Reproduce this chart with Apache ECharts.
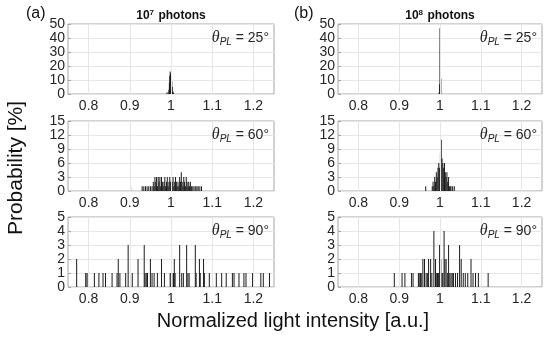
<!DOCTYPE html>
<html><head><meta charset="utf-8">
<script src="https://cdn.jsdelivr.net/npm/echarts@6/dist/echarts.min.js"></script>
<style>html,body{margin:0;padding:0;background:#fff}#c{width:550px;height:337px}</style>
</head><body><div id="c"></div>
<script>
// ---------------- data ----------------
const xMin = 0.75, xMax = 1.25;
const xTicks = [0.8, 0.9, 1, 1.1, 1.2];
const yMaxes = [50, 15, 5];
const yIntervals = [10, 3, 1];
const angles = [25, 60, 90];
const panelLetters = ['(a)', '(b)'];
const photonExp = ['7', '8'];
const xLabel = 'Normalized light intensity [a.u.]';
const yLabel = 'Probability [%]';

// (a) 10^7 photons
const a25 = [[0.990,1],[0.993,1],[0.995,3],[0.996,8],[0.997,13],[0.998,16],[0.999,14],[1.000,15],[1.001,12],[1.002,9],[1.003,5],[1.004,2],[1.006,1]];
const a60 = [[0.902,1],[0.930,1],[0.934,1],[0.938,1],[0.942,1],[0.946,1],[0.950,1],[0.954,1],[0.957,2],[0.959,1],[0.961,3],[0.963,2],[0.965,3],[0.967,1],[0.969,3],[0.971,2],[0.973,3],[0.975,1],[0.977,3],[0.979,2],[0.981,1],[0.983,2],[0.985,3],[0.987,1],[0.989,2],[0.991,3],[0.993,1],[0.995,2],[0.997,3],[0.999,2],[1.001,1],[1.003,2],[1.005,3],[1.007,1],[1.009,2],[1.011,3],[1.013,2],[1.015,1],[1.017,2],[1.019,1],[1.021,3],[1.023,2],[1.025,4],[1.027,2],[1.029,1],[1.031,3],[1.033,2],[1.035,1],[1.037,3],[1.039,2],[1.041,1],[1.043,2],[1.045,1],[1.047,2],[1.050,1],[1.053,1],[1.056,1],[1.060,1],[1.063,1],[1.066,1],[1.070,1],[1.074,1]];
const a90 = [[0.771,2],[0.793,1],[0.796,1],[0.799,1],[0.814,1],[0.825,1],[0.835,1],[0.841,1],[0.857,1],[0.869,1],[0.872,2],[0.876,1],[0.890,1],[0.896,3],[0.906,1],[0.920,2],[0.935,3],[0.937,1],[0.940,1],[0.943,1],[0.950,2],[0.954,1],[0.959,1],[0.967,1],[0.977,2],[0.984,1],[0.998,1],[1.000,1],[1.002,1],[1.006,1],[1.008,2],[1.010,1],[1.021,3],[1.026,1],[1.030,1],[1.038,3],[1.041,1],[1.044,1],[1.059,3],[1.061,1],[1.069,2],[1.071,1],[1.079,2],[1.081,1],[1.093,1],[1.110,1],[1.123,1],[1.134,1],[1.149,1],[1.153,1],[1.165,1],[1.177,1],[1.182,1],[1.198,1],[1.218,1],[1.224,1],[1.239,1]];

// (b) 10^8 photons
const b25 = [[0.998,1],[0.999,7],[1.000,47],[1.001,34],[1.002,11]];
const b60 = [[0.965,1],[0.981,1],[0.983,2],[0.985,1],[0.987,3],[0.989,2],[0.991,4],[0.993,3],[0.995,5],[0.997,6],[0.999,5],[1.001,8],[1.003,11],[1.005,7],[1.007,6],[1.009,5],[1.011,6],[1.013,4],[1.015,3],[1.017,4],[1.019,2],[1.021,3],[1.023,1],[1.025,1],[1.027,1],[1.031,1],[1.035,1]];
const b90 = [[0.888,1],[0.907,1],[0.914,1],[0.930,1],[0.934,1],[0.947,1],[0.949,1],[0.952,1],[0.954,1],[0.958,2],[0.962,2],[0.966,1],[0.969,1],[0.972,2],[0.977,2],[0.980,1],[0.985,4],[0.989,2],[0.992,1],[0.994,1],[0.996,1],[0.999,3],[1.002,2],[1.005,1],[1.007,1],[1.010,4],[1.012,2],[1.015,2],[1.018,1],[1.021,3],[1.024,1],[1.027,1],[1.030,1],[1.033,1],[1.038,1],[1.043,1],[1.048,3],[1.052,2],[1.057,1],[1.062,1],[1.068,1],[1.076,2],[1.081,1],[1.087,1],[1.094,1],[1.118,1]];

const panelData = [[a25, a60, a90], [b25, b60, b90]];

// ---------------- layout / style ----------------
const FONT = '"Liberation Sans", Arial, sans-serif';
const colLeft = [68, 338], colWidth = [206, 204];
const rowTop = [24, 121, 217], rowHeight = [70, 70, 70];
const frameColor = '#a6a6a6', gridColor = '#e6e6e6', textColor = '#262626', barColor = '#1c1c1c';

const grids = [], xAxes = [], yAxes = [], series = [], graphics = [];
let idx = 0;
for (let c = 0; c < 2; c++) {
  for (let r = 0; r < 3; r++) {
    const left = colLeft[c], top = rowTop[r], w = colWidth[c], h = rowHeight[r];
    grids.push({left: left, top: top, width: w, height: h, show: true, borderColor: frameColor, borderWidth: 1, backgroundColor: '#fff'});
    xAxes.push({
      type: 'value', gridIndex: idx, min: xMin, max: xMax,
      axisLine: {show: false},
      axisTick: {show: true, inside: true, length: 3, customValues: xTicks, lineStyle: {color: frameColor}},
      axisLabel: {customValues: xTicks, color: textColor, fontSize: 14, fontFamily: FONT, margin: 5},
      splitLine: {show: false}
    });
    yAxes.push({
      type: 'value', gridIndex: idx, min: 0, max: yMaxes[r], interval: yIntervals[r],
      axisLine: {show: false},
      axisTick: {show: true, inside: true, length: 3, lineStyle: {color: frameColor}},
      axisLabel: {color: textColor, fontSize: 14, fontFamily: FONT, margin: 3,
        showMinLabel: true, showMaxLabel: true, hideOverlap: false},
      splitLine: {show: true, lineStyle: {color: gridColor, width: 1}}
    });
    // vertical grid lines (behind bars)
    series.push({
      type: 'line', xAxisIndex: idx, yAxisIndex: idx, data: [[xMin, 0]], showSymbol: false,
      lineStyle: {opacity: 0}, silent: true, z: 1, animation: false,
      markLine: {silent: true, symbol: 'none', animation: false, label: {show: false},
        lineStyle: {color: gridColor, type: 'solid', width: 1},
        data: xTicks.map(v => ({xAxis: v}))}
    });
    series.push({
      type: 'bar', xAxisIndex: idx, yAxisIndex: idx, data: panelData[c][r],
      barWidth: 1, itemStyle: {color: barColor}, z: 3, animation: false, silent: true
    });
    graphics.push({
      type: 'text', right: 550 - (left + w) + 5, top: top + 6, z: 100,
      style: {
        text: '{t|θ}{s|PL}{n| = ' + angles[r] + '°}',
        rich: {
          t: {fontFamily: '"Liberation Serif", serif', fontStyle: 'italic', fontSize: 16, fill: textColor},
          s: {fontFamily: FONT, fontStyle: 'italic', fontSize: 10, fill: textColor, padding: [8, 0, 0, 0]},
          n: {fontFamily: FONT, fontSize: 14, fill: textColor}
        }
      }
    });
    idx++;
  }
  // panel letter and column title
  graphics.push({type: 'text', left: c === 0 ? 26 : 294, top: 6,
    style: {text: panelLetters[c], font: '16px ' + FONT, fill: '#111'}});
  graphics.push({type: 'text', x: colLeft[c] + colWidth[c] / 2, y: 16,
    style: {text: '{b|10}{e|' + photonExp[c] + '}{b| photons}', align: 'center', verticalAlign: 'middle',
      rich: {b: {fontFamily: FONT, fontWeight: 'bold', fontSize: 12, fill: '#111'},
             e: {fontFamily: FONT, fontWeight: 'bold', fontSize: 8, fill: '#111', padding: [0, 1, 6, 0]}}}});
}
graphics.push({type: 'text', x: 16, y: 168, rotation: Math.PI / 2,
  style: {text: yLabel, font: '21px ' + FONT, fill: '#111', align: 'center', verticalAlign: 'middle'}});
graphics.push({type: 'text', x: 293, y: 321,
  style: {text: xLabel, font: '20px ' + FONT, fill: '#111', align: 'center', verticalAlign: 'middle'}});

const chart = echarts.init(document.getElementById('c'), null, {renderer: 'canvas'});
chart.setOption({
  animation: false,
  backgroundColor: '#fff',
  grid: grids, xAxis: xAxes, yAxis: yAxes, series: series, graphic: graphics
});
</script></body></html>
